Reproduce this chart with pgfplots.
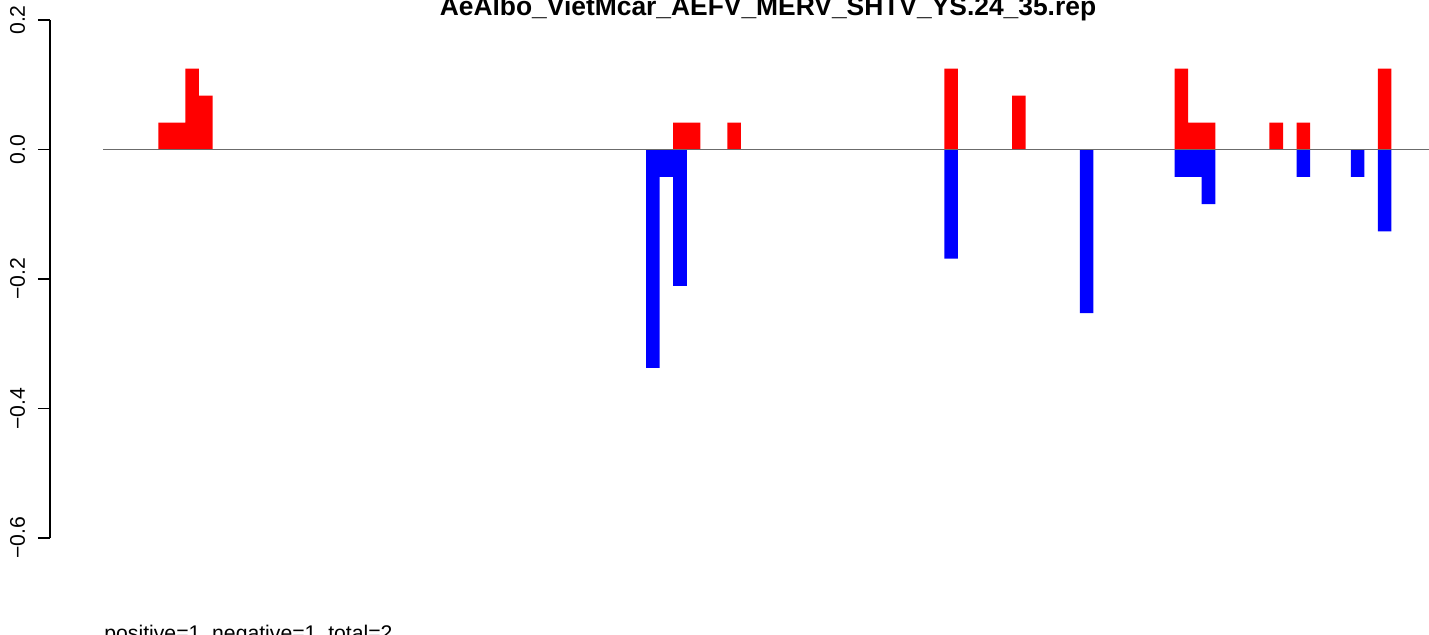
\documentclass[border=0pt]{standalone}
\usepackage{fontspec}
\setmainfont{Liberation Sans}
\usepackage{pgfplots}
\pgfplotsset{compat=1.18}
\definecolor{zeroline}{gray}{0.42}

\begin{document}
\begin{tikzpicture}
% page = the 1429x634 frame, 1px = 0.5pt
\useasboundingbox (0,0) rectangle (714.5pt,317pt);
\begin{axis}[
    at={(51.5pt,37.65pt)}, anchor=south west,
    width=665pt, height=279.7pt, scale only axis,
    xmin=-4.081, xmax=94.07,
    ymin=-0.632, ymax=0.232,
    hide axis, clip=false,
    ybar, bar width=1,
  ]
  % positive
  \addplot[fill=red, draw=none, bar shift=0pt] coordinates {
      (0.5,0.041667) (1.5,0.041667) (2.5,0.125) (3.5,0.083333)
      (38.5,0.041667) (39.5,0.041667) (42.5,0.041667)
      (58.5,0.125) (63.5,0.083333)
      (75.5,0.125) (76.5,0.041667) (77.5,0.041667)
      (82.5,0.041667) (84.5,0.041667) (90.5,0.125)
    };
  % negative
  \addplot[fill=blue, draw=none, bar shift=0pt] coordinates {
      (36.5,-0.3371) (37.5,-0.0421) (38.5,-0.2107)
      (58.5,-0.1686) (68.5,-0.2528)
      (75.5,-0.0421) (76.5,-0.0421) (77.5,-0.0843)
      (84.5,-0.0421) (88.5,-0.0421) (90.5,-0.1264)
    };
  \draw[zeroline, line width=0.7pt] (axis cs:-4.081,0) -- (axis cs:94.07,0);
  % y axis, R style
  \draw[line width=0.6pt] (axis cs:-7.99,-0.6) -- (axis cs:-7.99,0.2);
  \pgfplotsinvokeforeach{-0.6,-0.4,-0.2,0,0.2}{
    \draw[line width=0.6pt] (axis cs:-8.88,#1) -- (axis cs:-7.99,#1);
  }
  \begin{scope}[every node/.style={rotate=90, anchor=base, font=\fontsize{10.6}{12}\selectfont}]
    \node at (axis cs:-9.84,0.2) {0.2};
    \node at (axis cs:-9.84,0) {0.0};
    \node at (axis cs:-9.84,-0.2) {−0.2};
    \node at (axis cs:-9.84,-0.4) {−0.4};
    \node at (axis cs:-9.84,-0.6) {−0.6};
  \end{scope}
\end{axis}
\node[anchor=base, font=\bfseries\fontsize{13.2}{15}\selectfont] at (384pt,309pt)
  {AeAlbo\_VietMcar\_AEFV\_MERV\_SHTV\_YS.24\_35.rep};
\node[anchor=base west, inner sep=0pt, font=\fontsize{10.6}{12}\selectfont] at (52pt,-3pt)
  {positive=1, negative=1, total=2};
\end{tikzpicture}
\end{document}
